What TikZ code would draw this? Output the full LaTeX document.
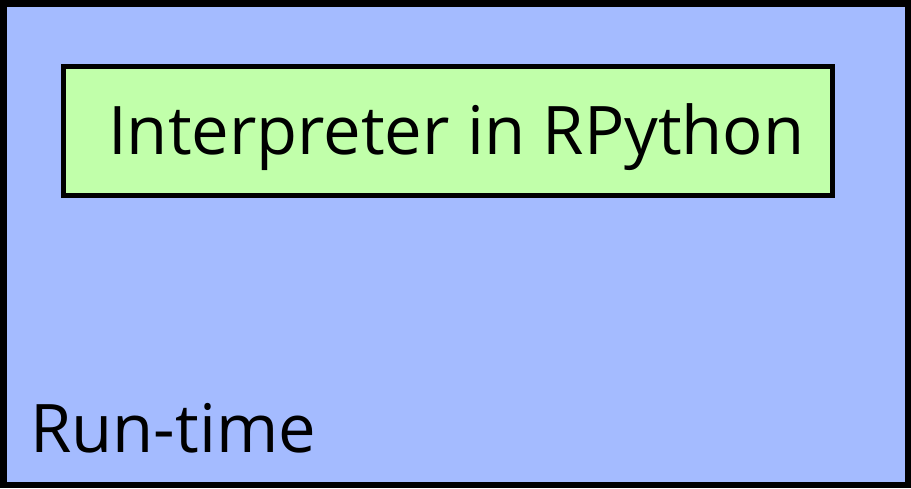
\documentclass[tikz,border=0pt]{standalone}
\usepackage{fontspec}
\setmainfont{Open Sans}
\definecolor{rtblue}{RGB}{164,187,255}
\definecolor{ipgreen}{RGB}{193,255,170}
\begin{document}
\begin{tikzpicture}[x=1pt,y=-1pt,
  lbl/.style={inner sep=0pt,anchor=base west,font=\fontsize{67}{80}\selectfont}]
\useasboundingbox (0,0) rectangle (911,488);
\draw[fill=rtblue,line width=6.5pt] (3.25,3.25) rectangle (907.75,484.75);
\node[draw,fill=ipgreen,line width=5pt,minimum width=769pt,minimum height=128.5pt,inner sep=0pt] (interp) at (448,131) {};
\node[lbl] (interptext) at (108,154) {Interpreter in RPython};
\node[lbl] (runtime) at (30,452.7) {Run-time};
\end{tikzpicture}
\end{document}
